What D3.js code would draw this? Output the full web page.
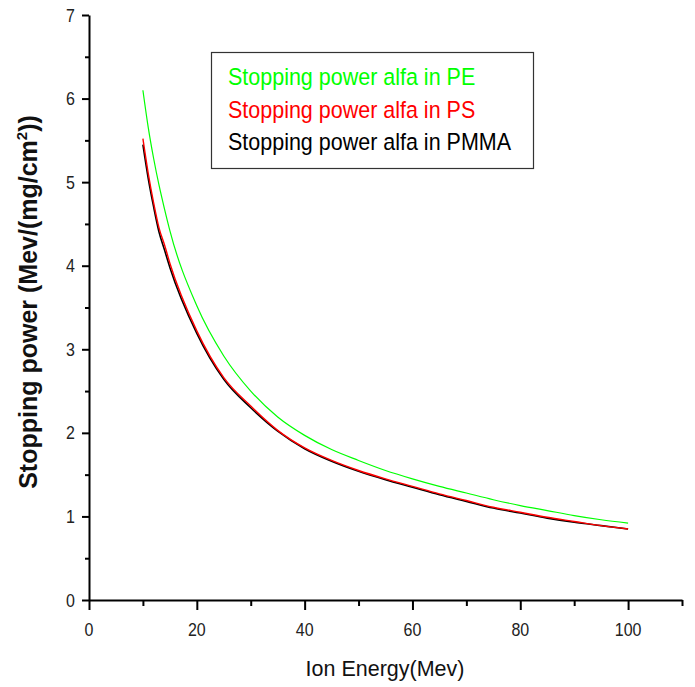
<!DOCTYPE html>
<html>
<head>
<meta charset="utf-8">
<script src="https://cdn.jsdelivr.net/npm/d3@7"></script>
<style>
  body { margin: 0; background: #fff; }
  text { font-family: "Liberation Sans", Arial, sans-serif; }
</style>
</head>
<body>
<script>
// energies (Mev) and stopping power for each material
const energy = [10, 11, 12, 13, 14, 15, 20, 25, 30, 35, 40, 45, 50, 55, 60, 65, 70, 75, 80, 85, 90, 95, 100];
const pe   = [6.10, 5.65, 5.28, 4.96, 4.68, 4.42, 3.52, 2.92, 2.50, 2.19, 1.97, 1.80, 1.67, 1.55, 1.45, 1.36, 1.28, 1.20, 1.13, 1.07, 1.01, 0.96, 0.92];
const ps   = [5.52, 5.10, 4.75, 4.45, 4.25, 4.03, 3.22, 2.66, 2.32, 2.03, 1.82, 1.67, 1.55, 1.45, 1.36, 1.27, 1.19, 1.11, 1.05, 0.99, 0.94, 0.89, 0.85];
const pmma = [5.45, 5.04, 4.70, 4.40, 4.19, 3.98, 3.19, 2.64, 2.30, 2.02, 1.81, 1.66, 1.54, 1.44, 1.35, 1.26, 1.18, 1.10, 1.04, 0.98, 0.93, 0.89, 0.85];

const legendLabels = ["Stopping power alfa in PE", "Stopping power alfa in PS", "Stopping power alfa in PMMA"];
const colors = ["#00ff00", "#ff0000", "#000000"];

const xTicks = [0, 20, 40, 60, 80, 100];
const xMinor = [10, 30, 50, 70, 90, 110];
const yTicks = [0, 1, 2, 3, 4, 5, 6, 7];
const yMinor = [0.5, 1.5, 2.5, 3.5, 4.5, 5.5, 6.5];

const W = 695, H = 687;

const svg = d3.select("body").append("svg")
	.attr("width", W)
	.attr("height", H);

const x = d3.scaleLinear().domain([0, 110]).range([89, 682]);
const y = d3.scaleLinear().domain([0, 7]).range([600, 15]);

//draw the minor ticks first, then the main axes over them
svg.append("g")
	.attr("transform", "translate(0,600)")
	.call(d3.axisBottom(x).tickValues(xMinor).tickSize(6).tickFormat(""))
	.call(g => g.select(".domain").remove())
	.selectAll("line").attr("stroke-width", 2);

svg.append("g")
	.attr("transform", "translate(89,0)")
	.call(d3.axisLeft(y).tickValues(yMinor).tickSize(4).tickFormat(""))
	.call(g => g.select(".domain").remove())
	.selectAll("line").attr("stroke-width", 2);

const xAxis = svg.append("g")
	.attr("transform", "translate(0,600)")
	.call(d3.axisBottom(x).tickValues(xTicks).tickSize(10).tickSizeOuter(0));

const yAxis = svg.append("g")
	.attr("transform", "translate(89,0)")
	.call(d3.axisLeft(y).tickValues(yTicks).tickSize(7).tickSizeOuter(0));

[xAxis, yAxis].forEach(g => {
	g.select(".domain").attr("stroke-width", 2);
	g.selectAll(".tick line").attr("stroke-width", 2);
	g.selectAll(".tick text").remove();
});

//tick labels, drawn by hand so they can be stretched a little
svg.append("g").selectAll("text")
	.data(xTicks)
	.enter().append("text")
	.attr("transform", d => `translate(${x(d)},636) scale(1,1.15)`)
	.attr("text-anchor", "middle")
	.attr("font-size", 16)
	.attr("fill", "#222")
	.text(d => d);

svg.append("g").selectAll("text")
	.data(yTicks)
	.enter().append("text")
	.attr("transform", d => `translate(75,${y(d) + 6.5}) scale(1,1.15)`)
	.attr("text-anchor", "end")
	.attr("font-size", 16)
	.attr("fill", "#222")
	.text(d => d);

//axis titles
svg.append("text")
	.attr("transform", "translate(385,676) scale(1,1.05)")
	.attr("text-anchor", "middle")
	.attr("font-size", 21.5)
	.attr("fill", "#111")
	.text("Ion Energy(Mev)");

const yTitle = svg.append("text")
	.attr("transform", "translate(37,302) rotate(-90)")
	.attr("text-anchor", "middle")
	.attr("font-size", 25)
	.attr("font-weight", "bold")
	.attr("fill", "#111");
yTitle.append("tspan").text("Stopping power (Mev/(mg/cm");
yTitle.append("tspan").attr("font-size", 15).attr("dy", -10).text("2");
yTitle.append("tspan").attr("dy", 10).text("))");

//curves
const series = [pe, pmma, ps];
const seriesColors = [colors[0], colors[2], colors[1]];
const widths = [1.2, 1.6, 1.4];
const line = d3.line()
	.x(d => x(d[0]))
	.y(d => y(d[1]))
	.curve(d3.curveMonotoneX);

series.forEach((vals, i) => {
	svg.append("path")
		.datum(energy.map((e, j) => [e, vals[j]]))
		.attr("fill", "none")
		.attr("stroke", seriesColors[i])
		.attr("stroke-width", widths[i])
		.attr("d", line);
});

//legend
svg.append("rect")
	.attr("x", 211.5)
	.attr("y", 52.5)
	.attr("width", 322)
	.attr("height", 116)
	.attr("fill", "none")
	.attr("stroke", "#333")
	.attr("stroke-width", 1.2);

svg.append("g").selectAll("text")
	.data(legendLabels)
	.enter().append("text")
	.attr("transform", (d, i) => `translate(228,${85 + i * 32.5}) scale(1,1.08)`)
	.attr("font-size", 21.5)
	.attr("fill", (d, i) => colors[i])
	.text(d => d);
</script>
</body>
</html>
